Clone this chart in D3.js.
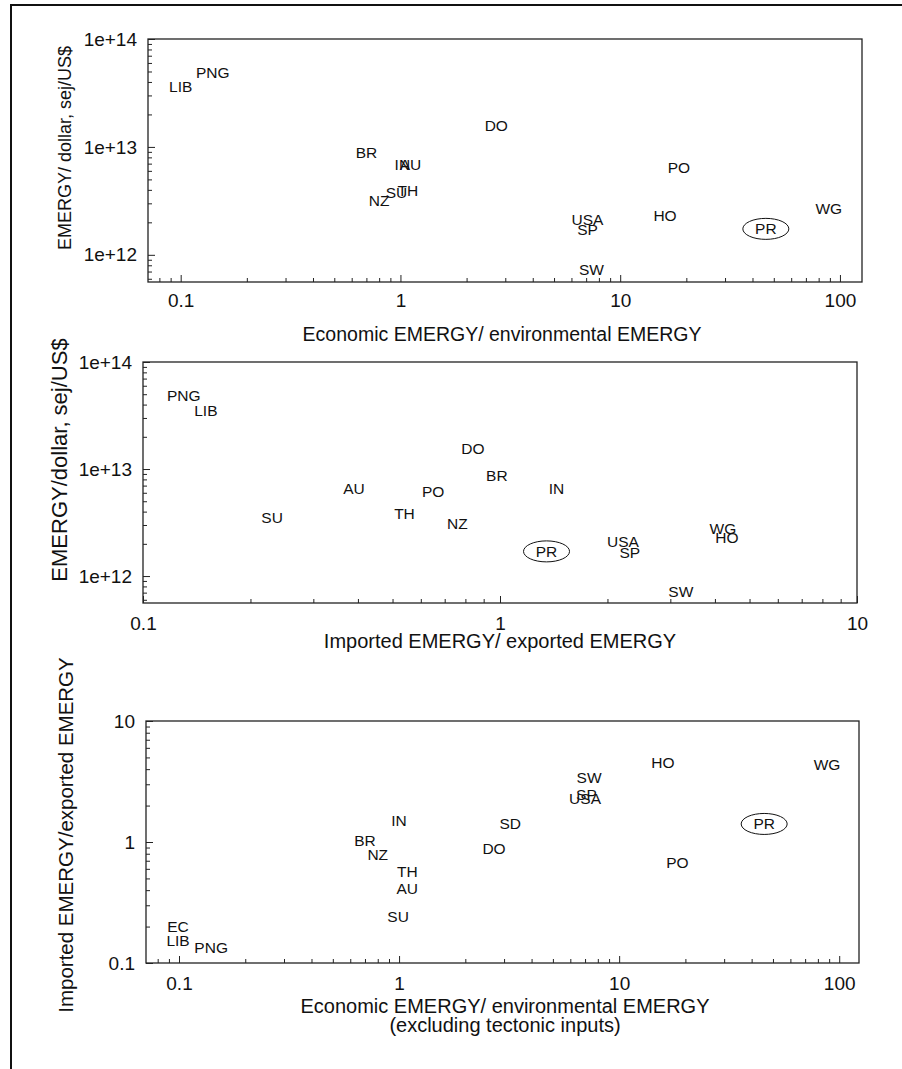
<!DOCTYPE html>
<html>
<head>
<meta charset="utf-8">
<script src="https://cdn.jsdelivr.net/npm/d3@7"></script>
<style>
  body { margin: 0; background: #fff; }
  text { font-family: Arial, "Liberation Sans", sans-serif; fill: #111; }
</style>
</head>
<body>
<script>
// panel 1: EMERGY/dollar vs economic/environmental EMERGY
const p1Codes = ['LIB', 'PNG', 'BR', 'IN', 'AU', 'NZ', 'SU', 'TH', 'DO', 'PO', 'USA', 'SP', 'HO', 'PR', 'WG', 'SW'];
const p1X = [0.1, 0.14, 0.70, 1.02, 1.11, 0.80, 0.96, 1.08, 2.73, 18.5, 7.1, 7.1, 16.0, 46, 89, 7.4];
const p1Y = [3.6e13, 4.9e13, 8.8e12, 6.8e12, 6.8e12, 3.2e12, 3.75e12, 3.9e12, 1.56e13, 6.4e12, 2.1e12, 1.7e12, 2.3e12, 1.74e12, 2.67e12, 7.3e11];

// panel 2: EMERGY/dollar vs imported/exported EMERGY
const p2Codes = ['PNG', 'LIB', 'SU', 'AU', 'TH', 'PO', 'NZ', 'DO', 'BR', 'IN', 'PR', 'USA', 'SP', 'SW', 'WG', 'HO'];
const p2X = [0.13, 0.15, 0.23, 0.39, 0.54, 0.65, 0.76, 0.84, 0.98, 1.44, 1.35, 2.21, 2.31, 3.21, 4.21, 4.32];
const p2Y = [4.9e13, 3.5e13, 3.5e12, 6.5e12, 3.8e12, 6.2e12, 3.1e12, 1.54e13, 8.6e12, 6.5e12, 1.7e12, 2.08e12, 1.64e12, 7.1e11, 2.75e12, 2.3e12];

// panel 3: imported/exported vs economic/environmental (excluding tectonic)
const p3Codes = ['EC', 'LIB', 'PNG', 'IN', 'BR', 'NZ', 'TH', 'AU', 'SU', 'SD', 'DO', 'SW', 'SP', 'USA', 'HO', 'WG', 'PR', 'PO'];
const p3X = [0.099, 0.099, 0.14, 1.0, 0.70, 0.80, 1.09, 1.09, 0.99, 3.2, 2.7, 7.3, 7.1, 7.0, 15.8, 88, 45.6, 18.4];
const p3Y = [0.20, 0.152, 0.133, 1.49, 1.02, 0.78, 0.565, 0.41, 0.24, 1.41, 0.875, 3.38, 2.45, 2.27, 4.5, 4.4, 1.41, 0.68];

const ratioTicks = [0.1, 1, 10, 100];
const ratioTickLabels = ['0.1', '1', '10', '100'];
const dollarTicks = [1e12, 1e13, 1e14];
const dollarTickLabels = ['1e+12', '1e+13', '1e+14'];
const highlighted = 'PR';

const width = 902, height = 1069;

const svg = d3.select('body')
  .append('svg')
  .attr('width', width)
  .attr('height', height);

// outer frame (only top and left edges show)
svg.append('path')
  .attr('d', 'M10,5H902M11,5V1069')
  .attr('fill', 'none')
  .attr('stroke', '#111')
  .attr('stroke-width', 2);

const isDecade = v => Math.abs(Math.log10(v) - Math.round(Math.log10(v))) < 1e-9;

function drawPanel(p) {
  const x = d3.scaleLog().domain(p.xDomain).range([p.left, p.right]);
  const y = d3.scaleLog().domain(p.yDomain).range([p.bottom, p.top]);
  const g = svg.append('g');

  g.append('rect')
    .attr('x', p.left)
    .attr('y', p.top)
    .attr('width', p.right - p.left)
    .attr('height', p.bottom - p.top)
    .attr('fill', 'none')
    .attr('stroke', '#222')
    .attr('stroke-width', 1.3);

  // minor ticks
  g.append('g')
    .attr('transform', `translate(0,${p.bottom})`)
    .call(d3.axisBottom(x).tickValues(x.ticks().filter(v => !isDecade(v))).tickSize(-4).tickFormat(''))
    .call(a => a.select('.domain').remove());
  g.append('g')
    .attr('transform', `translate(${p.left},0)`)
    .call(d3.axisLeft(y).tickValues(y.ticks().filter(v => !isDecade(v))).tickSize(-4).tickFormat(''))
    .call(a => a.select('.domain').remove());

  // major ticks with labels
  const xMajor = p.xTicks.filter(v => v >= p.xDomain[0] && v <= p.xDomain[1]);
  const xa = g.append('g')
    .attr('transform', `translate(0,${p.bottom})`)
    .call(d3.axisBottom(x).tickValues(xMajor).tickSize(-7).tickPadding(p.xPad)
      .tickFormat(v => p.xTickLabels[p.xTicks.indexOf(v)]));
  xa.select('.domain').remove();

  const ya = g.append('g')
    .attr('transform', `translate(${p.left},0)`)
    .call(d3.axisLeft(y).tickValues(p.yTicks).tickSize(-7).tickPadding(11)
      .tickFormat(v => p.yTickLabels[p.yTicks.indexOf(v)]));
  ya.select('.domain').remove();

  g.selectAll('.tick line').attr('stroke', '#222').attr('stroke-width', 1);
  g.selectAll('.tick text')
    .style('font-family', 'Arial, "Liberation Sans", sans-serif')
    .style('font-size', '19px')
    .attr('fill', '#111');

  // axis titles
  p.xTitle.forEach((line, i) => {
    g.append('text')
      .attr('x', p.xTitleX)
      .attr('y', p.xTitleY + i * 19)
      .attr('text-anchor', 'middle')
      .style('font-size', p.xTitleSize + 'px')
      .text(line);
  });
  g.append('text')
    .attr('transform', `translate(${p.yTitleX},${p.yTitleY}) rotate(-90)`)
    .attr('text-anchor', 'middle')
    .attr('dy', '0.35em')
    .style('font-size', p.yTitleSize + 'px')
    .text(p.yTitle);

  // country codes
  const pts = p.codes.map((c, i) => ({ code: c, x: p.xs[i], y: p.ys[i] }));
  g.selectAll('ellipse')
    .data(pts.filter(d => d.code === highlighted))
    .join('ellipse')
    .attr('cx', d => x(d.x))
    .attr('cy', d => y(d.y))
    .attr('rx', 23)
    .attr('ry', 10.5)
    .attr('fill', 'none')
    .attr('stroke', '#111')
    .attr('stroke-width', 1);
  g.selectAll('text.code')
    .data(pts)
    .join('text')
    .attr('class', 'code')
    .attr('x', d => x(d.x))
    .attr('y', d => y(d.y))
    .attr('dy', '0.35em')
    .attr('text-anchor', 'middle')
    .style('font-size', '15.5px')
    .text(d => d.code);
}

drawPanel({
  left: 148, right: 862, top: 39, bottom: 282,
  xDomain: [0.071, 126], yDomain: [5.6e11, 1e14],
  xTicks: ratioTicks, xTickLabels: ratioTickLabels,
  yTicks: dollarTicks, yTickLabels: dollarTickLabels,
  xPad: 12,
  xTitle: ['Economic EMERGY/ environmental EMERGY'], xTitleX: 502, xTitleY: 341, xTitleSize: 19.5,
  yTitle: 'EMERGY/ dollar, sej/US$', yTitleX: 65, yTitleY: 148, yTitleSize: 18,
  codes: p1Codes, xs: p1X, ys: p1Y
});

drawPanel({
  left: 143, right: 857, top: 362, bottom: 603,
  xDomain: [0.1, 10], yDomain: [5.6e11, 1e14],
  xTicks: ratioTicks, xTickLabels: ratioTickLabels,
  yTicks: dollarTicks, yTickLabels: dollarTickLabels,
  xPad: 14,
  xTitle: ['Imported EMERGY/ exported EMERGY'], xTitleX: 500, xTitleY: 648, xTitleSize: 20,
  yTitle: 'EMERGY/dollar, sej/US$', yTitleX: 59, yTitleY: 460, yTitleSize: 22,
  codes: p2Codes, xs: p2X, ys: p2Y
});

drawPanel({
  left: 146, right: 859, top: 721, bottom: 963,
  xDomain: [0.0708, 123], yDomain: [0.1, 10],
  xTicks: ratioTicks, xTickLabels: ratioTickLabels,
  yTicks: [0.1, 1, 10], yTickLabels: ['0.1', '1', '10'],
  xPad: 14,
  xTitle: ['Economic EMERGY/ environmental EMERGY', '(excluding tectonic inputs)'], xTitleX: 505, xTitleY: 1013, xTitleSize: 20,
  yTitle: 'Imported EMERGY/exported EMERGY', yTitleX: 66, yTitleY: 835, yTitleSize: 20.5,
  codes: p3Codes, xs: p3X, ys: p3Y
});
</script>
</body>
</html>
